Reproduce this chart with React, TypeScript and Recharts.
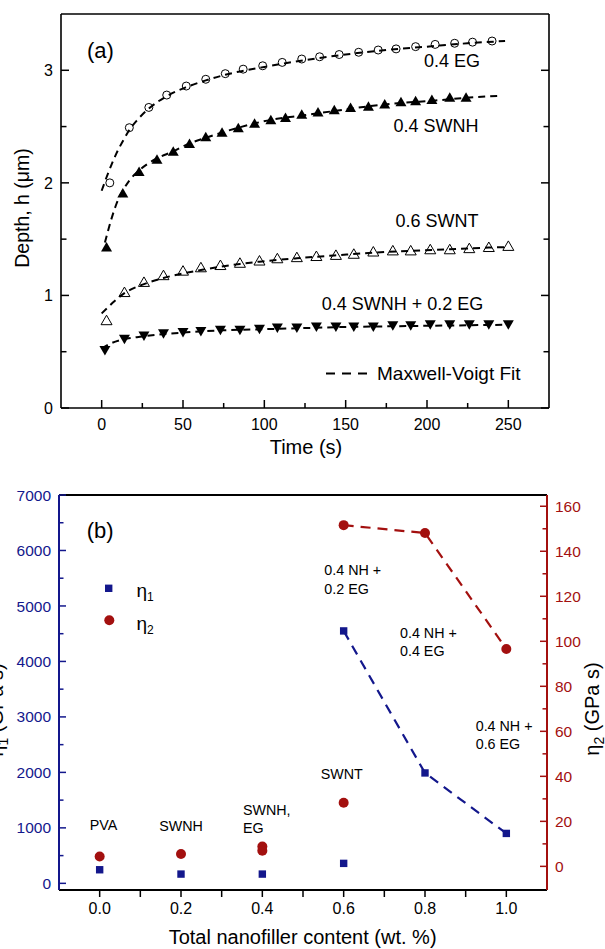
import React from "react";
import { ComposedChart, Line, Scatter, XAxis, YAxis, Legend } from "recharts";

const FONT = "'Liberation Sans', Arial, Helvetica, sans-serif";
const NAVY = "#13178c";
const DARK_RED = "#a3100f";

// ---- panel (a): indentation depth vs hold time ----
const timeEG = [5, 17, 29, 40, 52, 64, 76, 87, 99, 111, 123, 134, 146, 158, 170, 181, 193, 205, 217, 228, 240];
const depthEG = [2.0, 2.49, 2.67, 2.78, 2.86, 2.92, 2.97, 3.01, 3.04, 3.07, 3.1, 3.12, 3.14, 3.16, 3.18, 3.19, 3.21, 3.23, 3.24, 3.25, 3.26];

const timeSWNH = [3, 13, 23, 34, 44, 54, 64, 74, 84, 94, 104, 113, 123, 133, 143, 153, 164, 174, 184, 193, 203, 214, 224];
const depthSWNH = [1.43, 1.91, 2.1, 2.21, 2.28, 2.35, 2.41, 2.45, 2.49, 2.53, 2.56, 2.58, 2.61, 2.63, 2.65, 2.67, 2.68, 2.7, 2.72, 2.73, 2.74, 2.76, 2.76];

const timeSWNT = [3, 14, 26, 38, 50, 61, 73, 85, 97, 108, 120, 132, 144, 155, 167, 179, 190, 202, 214, 226, 238, 250];
const depthSWNT = [0.78, 1.03, 1.12, 1.18, 1.22, 1.25, 1.27, 1.29, 1.31, 1.33, 1.34, 1.35, 1.36, 1.37, 1.39, 1.4, 1.4, 1.41, 1.41, 1.42, 1.43, 1.44];

const timeMix = [2, 14, 26, 38, 50, 61, 73, 85, 97, 108, 120, 132, 144, 155, 167, 179, 190, 202, 214, 226, 238, 250];
const depthMix = [0.51, 0.61, 0.64, 0.66, 0.67, 0.68, 0.69, 0.69, 0.7, 0.71, 0.71, 0.72, 0.72, 0.72, 0.72, 0.73, 0.73, 0.74, 0.74, 0.74, 0.74, 0.74];

// Maxwell-Voigt fit curves
const fitTimeEG = [0, 3, 6, 9, 13, 17, 22, 29, 40, 52, 64, 76, 100, 125, 150, 175, 200, 225, 248];
const fitDepthEG = [1.93, 2.05, 2.16, 2.26, 2.37, 2.47, 2.56, 2.66, 2.77, 2.85, 2.91, 2.96, 3.03, 3.09, 3.14, 3.18, 3.21, 3.24, 3.26];

const fitTimeSWNH = [2, 6, 9, 13, 17, 23, 33, 44, 54, 64, 84, 104, 124, 144, 164, 184, 204, 224, 246];
const fitDepthSWNH = [1.47, 1.68, 1.81, 1.93, 2.02, 2.11, 2.21, 2.28, 2.35, 2.4, 2.49, 2.56, 2.6, 2.64, 2.68, 2.71, 2.73, 2.755, 2.775];

const fitTimeSWNT = [0, 8, 14, 26, 38, 50, 61, 73, 85, 97, 120, 143, 167, 190, 214, 238, 250];
const fitDepthSWNT = [0.84, 0.95, 1.02, 1.1, 1.155, 1.195, 1.225, 1.255, 1.28, 1.3, 1.33, 1.355, 1.38, 1.395, 1.41, 1.425, 1.43];

const fitTimeMix = [0, 5, 12, 25, 37, 50, 75, 100, 125, 150, 175, 200, 225, 250];
const fitDepthMix = [0.53, 0.57, 0.605, 0.635, 0.655, 0.67, 0.69, 0.7, 0.71, 0.72, 0.725, 0.73, 0.735, 0.74];

const timeTicks = [0, 25, 50, 75, 100, 125, 150, 175, 200, 225, 250];
const depthTicks = [0, 0.5, 1, 1.5, 2, 2.5, 3];

// ---- panel (b): viscosities vs nanofiller content ----
const content1 = [0, 0.2, 0.4, 0.6, 0.6, 0.8, 1.0];
const eta1 = [245, 167, 167, 360, 4550, 1990, 900];
const content2 = [0, 0.2, 0.4, 0.4, 0.6, 0.6, 0.8, 1.0];
const eta2 = [4.4, 5.5, 8.8, 6.9, 28.3, 151.6, 148.1, 96.6];
const trend1From = 4; // dashed guide through the NH + EG samples
const trend2From = 5;

const contentTicks = [0, 0.1, 0.2, 0.3, 0.4, 0.5, 0.6, 0.7, 0.8, 0.9, 1.0];
const eta1Ticks = [0, 500, 1000, 1500, 2000, 2500, 3000, 3500, 4000, 4500, 5000, 5500, 6000, 6500, 7000];
const eta2Ticks = [0, 10, 20, 30, 40, 50, 60, 70, 80, 90, 100, 110, 120, 130, 140, 150, 160];

const zipTH = (t: number[], h: number[]) => t.map((v, i) => ({ t: v, h: h[i] }));
const zipXV = (x: number[], v: number[]) => x.map((c, i) => ({ x: c, v: v[i] }));

type Side = "bottom" | "top" | "left" | "right";
interface TickStyle {
  isMajor: (v: number) => boolean;
  major: number;
  minor: number;
  out?: boolean;
  fmt?: (v: number) => string;
  gap?: number;
  color?: string;
  size?: number;
}

// inward/outward tick marks drawn by hand, with the label only on majors
function tickRenderer(side: Side, s: TickStyle) {
  return (props: any) => {
    const { x, y, payload } = props;
    const v = payload.value as number;
    const big = s.isMajor(v);
    const len = (big ? s.major : s.minor) * (s.out ? -1 : 1);
    const color = s.color ?? "#000";
    let x2 = x;
    let y2 = y;
    if (side === "bottom") y2 = y - len;
    if (side === "top") y2 = y + len;
    if (side === "left") x2 = x + len;
    if (side === "right") x2 = x - len;
    let label = null;
    if (big && s.fmt) {
      const gap = s.gap ?? 0;
      const common = { fill: color, fontSize: s.size, fontFamily: FONT };
      if (side === "bottom")
        label = <text x={x} y={y + gap} textAnchor="middle" {...common}>{s.fmt(v)}</text>;
      if (side === "left")
        label = <text x={x - gap} y={y} dy="0.36em" textAnchor="end" {...common}>{s.fmt(v)}</text>;
      if (side === "right")
        label = <text x={x + gap} y={y} dy="0.36em" textAnchor="start" {...common}>{s.fmt(v)}</text>;
    }
    return (
      <g>
        <line x1={x} y1={y} x2={x2} y2={y2} stroke={color} strokeWidth={1.5} />
        {label}
      </g>
    );
  };
}

const OpenCircle = (p: any) => <circle cx={p.cx} cy={p.cy} r={4} fill="none" stroke="#000" strokeWidth={1} />;
const FilledUp = (p: any) => (
  <path d={`M${p.cx},${p.cy - 5} L${p.cx + 5.5},${p.cy + 4.5} L${p.cx - 5.5},${p.cy + 4.5} Z`} fill="#000" />
);
const OpenUp = (p: any) => (
  <path d={`M${p.cx},${p.cy - 5} L${p.cx + 5.5},${p.cy + 4.5} L${p.cx - 5.5},${p.cy + 4.5} Z`} fill="none" stroke="#000" strokeWidth={1} />
);
const FilledDown = (p: any) => (
  <path d={`M${p.cx},${p.cy + 5} L${p.cx + 5.5},${p.cy - 4.5} L${p.cx - 5.5},${p.cy - 4.5} Z`} fill="#000" />
);
const NavySquare = (p: any) => <rect x={p.cx - 3.7} y={p.cy - 3.7} width={7.4} height={7.4} fill={NAVY} />;
const RedDot = (p: any) => <circle cx={p.cx} cy={p.cy} r={5} fill={DARK_RED} />;

const txt = { fontFamily: FONT, fill: "#000" };

function PanelA() {
  const isInt = (v: number) => Number.isInteger(v);
  const is50 = (v: number) => v % 50 === 0;
  const fits = [
    zipTH(fitTimeEG, fitDepthEG),
    zipTH(fitTimeSWNH, fitDepthSWNH),
    zipTH(fitTimeSWNT, fitDepthSWNT),
    zipTH(fitTimeMix, fitDepthMix),
  ];
  return (
    <ComposedChart width={605} height={470} margin={{ top: 13, right: 55, bottom: 32, left: 0 }}>
      <XAxis
        xAxisId="b" dataKey="t" type="number" domain={[-25, 275]} allowDataOverflow
        ticks={timeTicks} interval={0} height={30} tickSize={0} tickMargin={0} tickLine={false}
        axisLine={{ stroke: "#000", strokeWidth: 1.6 }}
        tick={tickRenderer("bottom", { isMajor: is50, major: 8, minor: 5, fmt: (v) => String(v), gap: 21.5, size: 16 })}
      />
      <XAxis
        xAxisId="t" orientation="top" type="number" domain={[-25, 275]} allowDataOverflow
        ticks={timeTicks} interval={0} height={1} tickSize={0} tickMargin={0} tickLine={false}
        axisLine={{ stroke: "#000", strokeWidth: 1.6 }}
        tick={tickRenderer("top", { isMajor: is50, major: 8, minor: 5 })}
      />
      <YAxis
        yAxisId="l" dataKey="h" type="number" domain={[0, 3.5]} allowDataOverflow
        ticks={depthTicks} interval={0} width={61} tickSize={0} tickMargin={0} tickLine={false}
        axisLine={{ stroke: "#000", strokeWidth: 1.6 }}
        tick={tickRenderer("left", { isMajor: isInt, major: 8, minor: 5.5, fmt: (v) => String(v), gap: 8, size: 16 })}
      />
      <YAxis
        yAxisId="r" orientation="right" type="number" domain={[0, 3.5]} allowDataOverflow
        ticks={depthTicks} interval={0} width={1} tickSize={0} tickMargin={0} tickLine={false}
        axisLine={{ stroke: "#000", strokeWidth: 1.6 }}
        tick={tickRenderer("right", { isMajor: isInt, major: 8, minor: 5.5 })}
      />

      {fits.map((d, i) => (
        <Line
          key={i} xAxisId="b" yAxisId="l" data={d} dataKey="h" type="monotone"
          stroke="#000" strokeWidth={2} strokeDasharray="7 5" dot={false} isAnimationActive={false}
        />
      ))}
      <Scatter xAxisId="b" yAxisId="l" data={zipTH(timeEG, depthEG)} shape={OpenCircle} isAnimationActive={false} />
      <Scatter xAxisId="b" yAxisId="l" data={zipTH(timeSWNH, depthSWNH)} shape={FilledUp} isAnimationActive={false} />
      <Scatter xAxisId="b" yAxisId="l" data={zipTH(timeSWNT, depthSWNT)} shape={OpenUp} isAnimationActive={false} />
      <Scatter xAxisId="b" yAxisId="l" data={zipTH(timeMix, depthMix)} shape={FilledDown} isAnimationActive={false} />

      <Legend
        layout="horizontal" verticalAlign="middle" align="center"
        wrapperStyle={{ left: 322, top: 361, width: 215, height: 26 }}
        content={() => (
          <svg width={215} height={26}>
            <line x1={4} y1={12.5} x2={45} y2={12.5} stroke="#000" strokeWidth={2} strokeDasharray="9 7" />
            <text x={55} y={19} fontSize={19} {...txt}>Maxwell-Voigt Fit</text>
          </svg>
        )}
      />

      <text x={87} y={58} fontSize={22} {...txt}>(a)</text>
      <text x={452} y={66.5} fontSize={18} textAnchor="middle" {...txt}>0.4 EG</text>
      <text x={436} y={131.5} fontSize={18} textAnchor="middle" {...txt}>0.4 SWNH</text>
      <text x={437} y={226.5} fontSize={18} textAnchor="middle" {...txt}>0.6 SWNT</text>
      <text x={402.5} y={310} fontSize={18} textAnchor="middle" {...txt}>0.4 SWNH + 0.2 EG</text>
      <text x={306} y={454} fontSize={20} textAnchor="middle" {...txt}>Time (s)</text>
      <text x={22} y={208} fontSize={19.5} textAnchor="middle" dominantBaseline="central"
        transform="rotate(-90 22 208)" {...txt}>Depth, h (μm)</text>
    </ComposedChart>
  );
}

function PanelB() {
  const even = (v: number) => Math.round(v * 10) % 2 === 0;
  const k1 = (v: number) => v % 1000 === 0;
  const k2 = (v: number) => v % 20 === 0;
  const note = { fontSize: 14.3, ...txt };
  return (
    <ComposedChart width={605} height={479} margin={{ top: 24, right: 0, bottom: 29, left: 0 }}>
      <XAxis
        xAxisId="b" dataKey="x" type="number" domain={[-0.1, 1.1]} allowDataOverflow
        ticks={contentTicks} interval={0} height={30} tickSize={0} tickMargin={0} tickLine={false}
        axisLine={{ stroke: "#000", strokeWidth: 2 }}
        tick={tickRenderer("bottom", { isMajor: even, major: 7, minor: 7, out: true, fmt: (v) => v.toFixed(1), gap: 24, size: 16 })}
      />
      <XAxis
        xAxisId="t" orientation="top" type="number" domain={[-0.1, 1.1]} allowDataOverflow
        ticks={contentTicks} interval={0} height={1} tickSize={0} tickMargin={0} tickLine={false}
        axisLine={{ stroke: "#000", strokeWidth: 2 }}
        tick={tickRenderer("top", { isMajor: even, major: 7, minor: 7 })}
      />
      <YAxis
        yAxisId="l" dataKey="v" type="number" domain={[-120, 7000]} allowDataOverflow
        ticks={eta1Ticks} interval={0} width={59} tickSize={0} tickMargin={0} tickLine={false}
        axisLine={{ stroke: NAVY, strokeWidth: 2 }}
        tick={tickRenderer("left", { isMajor: k1, major: 7, minor: 4.5, fmt: (v) => String(v), gap: 8, size: 15.5, color: NAVY })}
      />
      <YAxis
        yAxisId="r" orientation="right" dataKey="v" type="number" domain={[-10.5, 165]} allowDataOverflow
        ticks={eta2Ticks} interval={0} width={58} tickSize={0} tickMargin={0} tickLine={false}
        axisLine={{ stroke: DARK_RED, strokeWidth: 2 }}
        tick={tickRenderer("right", { isMajor: k2, major: 7, minor: 4.5, fmt: (v) => String(v), gap: 8, size: 15.5, color: DARK_RED })}
      />

      <Line
        xAxisId="b" yAxisId="l" data={zipXV(content1, eta1).slice(trend1From)} dataKey="v" type="linear"
        stroke={NAVY} strokeWidth={2.2} strokeDasharray="10 7" dot={false} isAnimationActive={false}
      />
      <Line
        xAxisId="b" yAxisId="r" data={zipXV(content2, eta2).slice(trend2From)} dataKey="v" type="linear"
        stroke={DARK_RED} strokeWidth={2.2} strokeDasharray="10 7" dot={false} isAnimationActive={false}
      />
      <Scatter xAxisId="b" yAxisId="l" data={zipXV(content1, eta1)} shape={NavySquare} isAnimationActive={false} />
      <Scatter xAxisId="b" yAxisId="r" data={zipXV(content2, eta2)} shape={RedDot} isAnimationActive={false} />

      <Legend
        layout="horizontal" verticalAlign="middle" align="center"
        wrapperStyle={{ left: 95, top: 100, width: 80, height: 70 }}
        content={() => (
          <svg width={80} height={70}>
            <rect x={10} y={14.6} width={7.4} height={7.4} fill={NAVY} />
            <text x={41.5} y={26.7} fontSize={19} {...txt}>
              η<tspan dy={4} fontSize={12}>1</tspan>
            </text>
            <circle cx={14.3} cy={50.3} r={5} fill={DARK_RED} />
            <text x={41.5} y={60} fontSize={19} {...txt}>
              η<tspan dy={4} fontSize={12}>2</tspan>
            </text>
          </svg>
        )}
      />

      <text x={86.7} y={68} fontSize={22} {...txt}>(b)</text>
      <text x={324.3} y={105} {...note}>0.4 NH +</text>
      <text x={324.3} y={123.5} {...note}>0.2 EG</text>
      <text x={400} y={168} {...note}>0.4 NH +</text>
      <text x={400} y={186} {...note}>0.4 EG</text>
      <text x={475.7} y={261} {...note}>0.4 NH +</text>
      <text x={475.7} y={279} {...note}>0.6 EG</text>
      <text x={320.7} y={308.5} {...note}>SWNT</text>
      <text x={242.9} y={345} {...note}>SWNH,</text>
      <text x={242.9} y={362.5} {...note}>EG</text>
      <text x={159.2} y={361} {...note}>SWNH</text>
      <text x={89.8} y={360} {...note}>PVA</text>

      <text x={302.6} y={473.5} fontSize={20} textAnchor="middle" {...txt}>Total nanofiller content (wt. %)</text>
      <text x={3} y={240} fontSize={20} textAnchor="middle" transform="rotate(-90 3 240)" {...txt}>
        η<tspan dy={5} fontSize={14}>1</tspan><tspan dy={-5}> (GPa s)</tspan>
      </text>
      <text x={598.5} y={239} fontSize={20} textAnchor="middle" transform="rotate(-90 598.5 239)" {...txt}>
        η<tspan dy={5} fontSize={14}>2</tspan><tspan dy={-5}> (GPa s)</tspan>
      </text>
    </ComposedChart>
  );
}

export default function App() {
  return (
    <div style={{ position: "absolute", left: 0, top: 0, width: 605, height: 949, background: "#fff" }}>
      <PanelA />
      <PanelB />
    </div>
  );
}
